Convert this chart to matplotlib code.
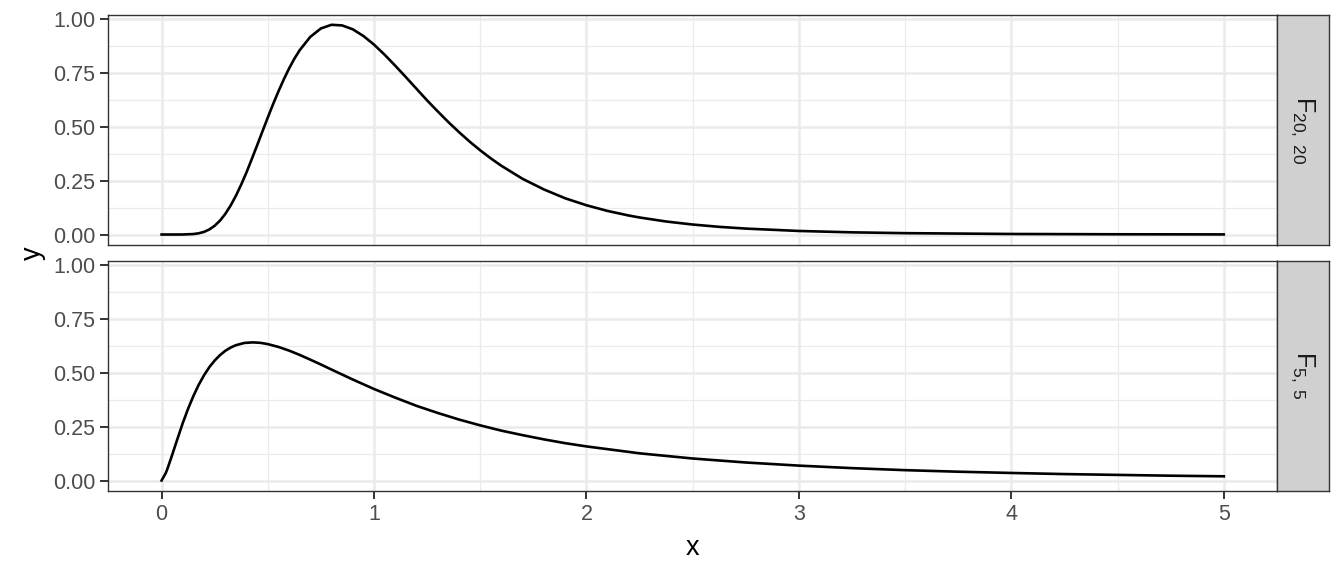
import matplotlib
matplotlib.use("Agg")
import matplotlib.pyplot as plt

plt.rcParams['font.family'] = ['Liberation Sans', 'DejaVu Sans']
plt.rcParams['mathtext.fontset'] = 'custom'
plt.rcParams['mathtext.rm'] = 'Liberation Sans'
plt.rcParams['mathtext.it'] = 'Liberation Sans'

x_f2020 = [0.0, 0.05, 0.1, 0.15, 0.175, 0.2, 0.225, 0.25, 0.275, 0.3, 0.325, 0.35,
           0.375, 0.4, 0.425, 0.45, 0.475, 0.5, 0.525, 0.55, 0.575, 0.6, 0.625,
           0.65, 0.7, 0.75, 0.8, 0.85, 0.9, 0.95, 1.0, 1.05, 1.1, 1.15, 1.2, 1.25,
           1.3, 1.35, 1.4, 1.45, 1.5, 1.55, 1.6, 1.7, 1.8, 1.9, 2.0, 2.1, 2.2,
           2.25, 2.375, 2.5, 2.625, 2.75, 3.0, 3.25, 3.5, 4.0, 4.5, 5.0]
y_f2020 = [0.0, 0.0, 0.0001, 0.0022, 0.0057, 0.0123, 0.0236, 0.0406, 0.0645,
           0.0957, 0.1344, 0.180, 0.232, 0.289, 0.351, 0.4145, 0.479, 0.543,
           0.605, 0.664, 0.719, 0.770, 0.8155, 0.855, 0.917, 0.956, 0.973, 0.970,
           0.952, 0.921, 0.881, 0.834, 0.783, 0.730, 0.676, 0.622, 0.571, 0.5215,
           0.475, 0.431, 0.3905, 0.353, 0.3185, 0.258, 0.209, 0.168, 0.1357,
           0.1092, 0.088, 0.079, 0.0604, 0.0463, 0.0356, 0.0275, 0.0165, 0.0101,
           0.0063, 0.0025, 0.0011, 0.0005]

x_f55 = [0.0, 0.02, 0.03, 0.05, 0.07, 0.1, 0.125, 0.15, 0.175, 0.2, 0.225, 0.25,
         0.275, 0.3, 0.325, 0.35, 0.39, 0.43, 0.465, 0.5, 0.55, 0.6, 0.65, 0.7,
         0.75, 0.8, 0.9, 1.0, 1.1, 1.2, 1.3, 1.4, 1.5, 1.6, 1.7, 1.8, 1.9, 2.0,
         2.25, 2.5, 2.75, 3.0, 3.25, 3.5, 3.75, 4.0, 4.25, 4.5, 4.75, 5.0]
y_f55 = [0.0, 0.035, 0.061, 0.119, 0.179, 0.267, 0.333, 0.392, 0.444, 0.488,
         0.5255, 0.556, 0.581, 0.601, 0.616, 0.627, 0.6375, 0.640, 0.638, 0.632,
         0.619, 0.602, 0.582, 0.560, 0.5375, 0.514, 0.468, 0.424, 0.384, 0.346,
         0.313, 0.2825, 0.2555, 0.231, 0.210, 0.1906, 0.173, 0.158, 0.126, 0.102,
         0.0835, 0.069, 0.0574, 0.048, 0.0408, 0.035, 0.0298, 0.026, 0.0223,
         0.0195]

panels = [
    (x_f2020, y_f2020, r'$\mathregular{F_{20,\ 20}}$'),
    (x_f55, y_f55, r'$\mathregular{F_{5,\ 5}}$'),
]

x_ticks = [0, 1, 2, 3, 4, 5]
y_ticks = [0.0, 0.25, 0.5, 0.75, 1.0]
y_ticklabels = ['0.00', '0.25', '0.50', '0.75', '1.00']

fig = plt.figure(figsize=(13.44, 5.76), dpi=100)

left, right = 0.0807, 0.9501
strip_w = 0.0385
boxes = [(0.5747, 0.974), (0.1476, 0.5474)]

for i, ((xs, ys, lab), (bot, top)) in enumerate(zip(panels, boxes)):
    ax = fig.add_axes([left, bot, right - left, top - bot])
    ax.plot(xs, ys, color='black', lw=1.9, zorder=3, solid_joinstyle='round')
    ax.set_xlim(-0.25, 5.25)
    ax.set_ylim(-0.0485, 1.0185)
    ax.set_xticks(x_ticks)
    ax.set_xticks([0.5, 1.5, 2.5, 3.5, 4.5], minor=True)
    ax.set_yticks(y_ticks)
    ax.set_yticklabels(y_ticklabels)
    ax.set_yticks([0.125, 0.375, 0.625, 0.875], minor=True)
    ax.grid(which='major', color='#EBEBEB', lw=1.8, zorder=0)
    ax.grid(which='minor', color='#EBEBEB', lw=0.9, zorder=0)
    ax.set_axisbelow(True)
    for s in ax.spines.values():
        s.set_color('#333333')
        s.set_linewidth(1.0)
    ax.tick_params(which='major', length=5.5, width=1.4, color='#333333',
                   labelcolor='#4D4D4D', labelsize=15.5, pad=4)
    ax.tick_params(which='minor', length=0)
    if i == 0:
        ax.tick_params(axis='x', which='both', bottom=False, labelbottom=False)

    sax = fig.add_axes([right, bot, strip_w, top - bot])
    sax.set_facecolor('#D0D0D0')
    sax.set_xticks([])
    sax.set_yticks([])
    for s in sax.spines.values():
        s.set_color('#333333')
        s.set_linewidth(1.0)
    sax.text(0.5, 0.5, lab, rotation=270, ha='center', va='center',
             fontsize=18, color='#1A1A1A', transform=sax.transAxes)

fig.text((left + right) / 2, 1 - 548 / 576, 'x', ha='center', va='center',
         fontsize=19.5, color='black')
fig.text(33 / 1344, 1 - 253 / 576, 'y', ha='center', va='center',
         fontsize=19.5, color='black', rotation=90)

fig.savefig('out.png', dpi=100)
